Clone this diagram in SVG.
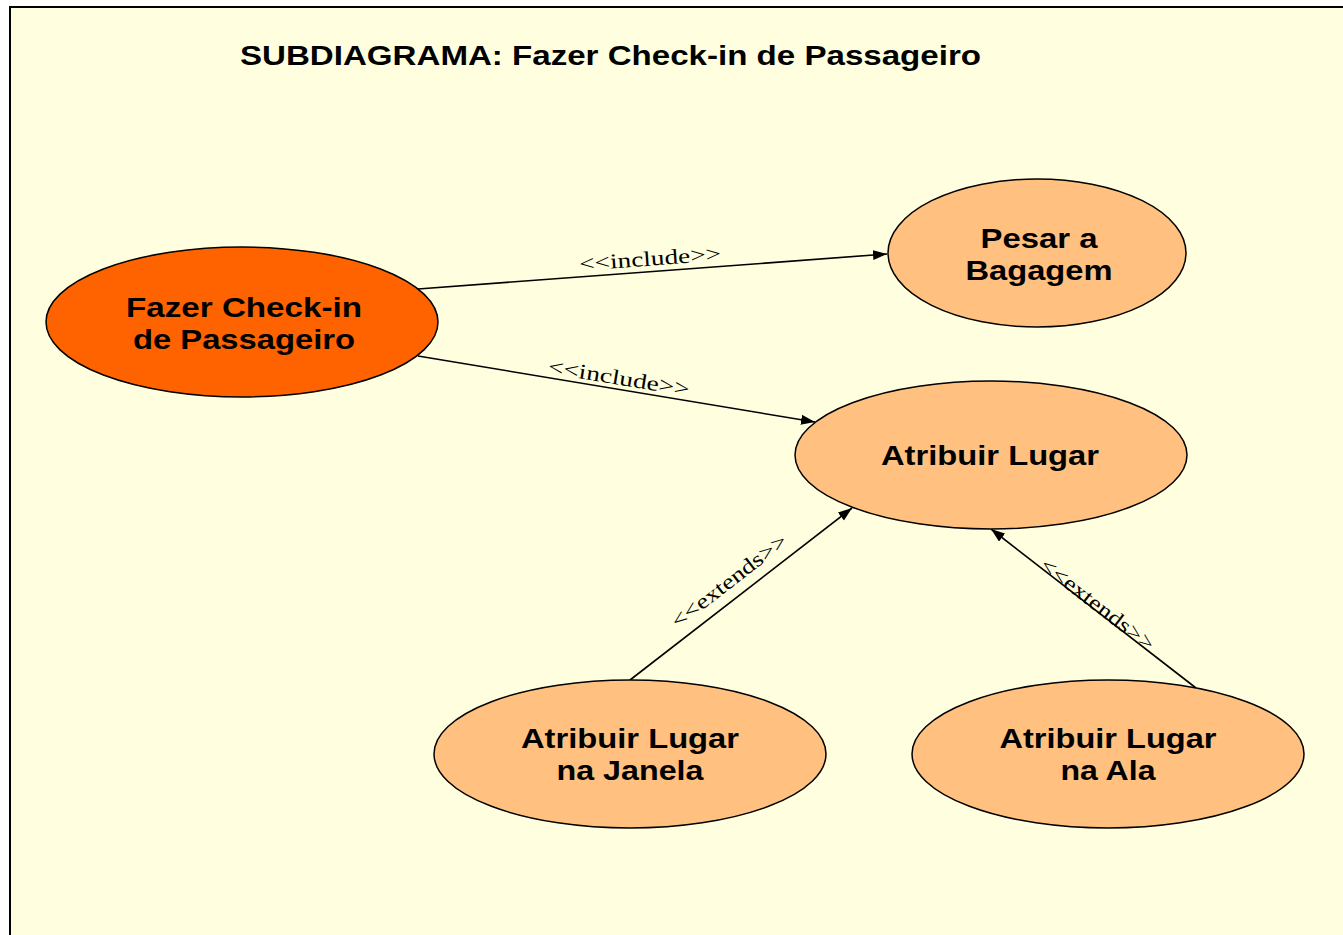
<svg xmlns="http://www.w3.org/2000/svg" width="1343" height="935" viewBox="0 0 1343 935">
  <style>
    .uc { stroke: #000; stroke-width: 1.5; }
    .primary { fill: #FF6300; }
    .secondary { fill: #FFC080; }
    .name { font-family: "Liberation Sans", Arial, sans-serif; font-weight: bold; font-size: 28px; fill: #000; text-anchor: middle; }
    .title { font-family: "Liberation Sans", Arial, sans-serif; font-weight: bold; font-size: 27px; fill: #000; }
    .edge { stroke: #000; stroke-width: 1.6; fill: none; marker-end: url(#arrow); }
    .stereo { font-family: "Liberation Serif", "Times New Roman", serif; font-size: 21px; fill: #000; text-anchor: middle; }
  </style>
  <defs>
    <marker id="arrow" markerUnits="userSpaceOnUse" markerWidth="15" markerHeight="11" refX="14" refY="5" orient="auto">
      <path d="M0,0 L14,5 L0,10 z" fill="#000"/>
    </marker>
  </defs>

  <!-- page and frame -->
  <rect x="0" y="0" width="1343" height="935" fill="#FFFFFF"/>
  <rect x="10" y="7" width="1345" height="940" fill="#FFFFDF" stroke="#000" stroke-width="2"/>

  <text class="title" x="240" y="65" textLength="741" lengthAdjust="spacingAndGlyphs">SUBDIAGRAMA: Fazer Check-in de Passageiro</text>

  <!-- connectors -->
  <g id="connectors">
    <line class="edge" x1="418" y1="289" x2="887" y2="254"/>
    <g transform="translate(651,271.6) rotate(-4.27)">
      <text class="stereo" x="0" y="-6" textLength="142" lengthAdjust="spacingAndGlyphs">&lt;&lt;include&gt;&gt;</text>
    </g>

    <line class="edge" x1="418" y1="356" x2="815" y2="422"/>
    <g transform="translate(617,389.6) rotate(9.3)">
      <text class="stereo" x="0" y="-5" textLength="143" lengthAdjust="spacingAndGlyphs">&lt;&lt;include&gt;&gt;</text>
    </g>

    <line class="edge" x1="630" y1="680" x2="852" y2="508"/>
    <g transform="translate(740,595) rotate(-37.6)">
      <text class="stereo" x="0" y="-11" textLength="140" lengthAdjust="spacingAndGlyphs">&lt;&lt;extends&gt;&gt;</text>
    </g>

    <line class="edge" x1="1196" y1="688" x2="991" y2="529"/>
    <g transform="translate(1094,609) rotate(37.6)">
      <text class="stereo" x="0" y="1" textLength="138" lengthAdjust="spacingAndGlyphs">&lt;&lt;extends&gt;&gt;</text>
    </g>
  </g>

  <!-- use cases -->
  <g id="fazer-checkin">
    <ellipse class="uc primary" cx="242" cy="322" rx="196" ry="75"/>
    <text class="name" x="244" y="317" textLength="236" lengthAdjust="spacingAndGlyphs">Fazer Check-in</text>
    <text class="name" x="244" y="349" textLength="222" lengthAdjust="spacingAndGlyphs">de Passageiro</text>
  </g>

  <g id="pesar-bagagem">
    <ellipse class="uc secondary" cx="1037" cy="253" rx="149" ry="74"/>
    <text class="name" x="1039" y="248" textLength="117" lengthAdjust="spacingAndGlyphs">Pesar a</text>
    <text class="name" x="1039" y="280" textLength="147" lengthAdjust="spacingAndGlyphs">Bagagem</text>
  </g>

  <g id="atribuir-lugar">
    <ellipse class="uc secondary" cx="991" cy="455" rx="196" ry="74"/>
    <text class="name" x="990" y="465" textLength="218" lengthAdjust="spacingAndGlyphs">Atribuir Lugar</text>
  </g>

  <g id="lugar-janela">
    <ellipse class="uc secondary" cx="630" cy="754" rx="196" ry="74"/>
    <text class="name" x="630" y="748" textLength="218" lengthAdjust="spacingAndGlyphs">Atribuir Lugar</text>
    <text class="name" x="630" y="780" textLength="147" lengthAdjust="spacingAndGlyphs">na Janela</text>
  </g>

  <g id="lugar-ala">
    <ellipse class="uc secondary" cx="1108" cy="754" rx="196" ry="74"/>
    <text class="name" x="1108" y="748" textLength="217" lengthAdjust="spacingAndGlyphs">Atribuir Lugar</text>
    <text class="name" x="1108" y="780" textLength="95" lengthAdjust="spacingAndGlyphs">na Ala</text>
  </g>
</svg>
